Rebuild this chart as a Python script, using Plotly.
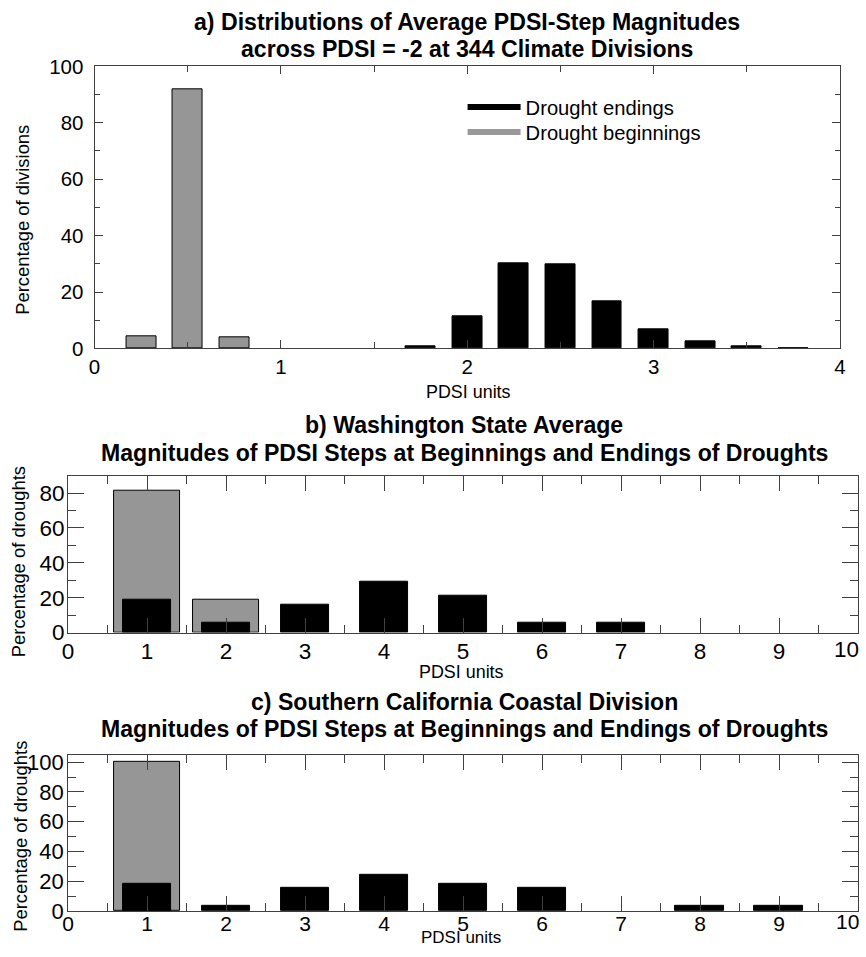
import plotly.graph_objects as go

# ---------------- data ----------------
# Panel a: average PDSI-step magnitudes across PDSI = -2 (344 climate divisions)
a_beg_x = [0.25, 0.5, 0.75]
a_beg_y = [4.4, 91.8, 4.1]
a_end_x = [1.75, 2.0, 2.25, 2.5, 2.75, 3.0, 3.25, 3.5, 3.75]
a_end_y = [0.9, 11.5, 30.1, 29.7, 16.7, 6.6, 2.5, 0.6, 0.2]

# Panel b: Washington State average
b_beg_x = [1, 2]
b_beg_y = [81.2, 18.8]
b_end_x = [1, 2, 3, 4, 5, 6, 7]
b_end_y = [18.6, 5.5, 16.0, 29.2, 21.2, 5.5, 5.5]

# Panel c: Southern California Coastal Division
c_beg_x = [1]
c_beg_y = [100.0]
c_end_x = [1, 2, 3, 4, 5, 6, 8, 9]
c_end_y = [18.3, 3.3, 15.5, 24.4, 18.4, 15.5, 3.3, 3.3]

bc_tickvals = [0, 1, 2, 3, 4, 5, 6, 7, 8, 9, 10]
bc_ticktext = ["0", "1", "2", "3", "4", "5", "6", "7", "8", "9", ""]
last_tick = "10"

titles_a = ["a) Distributions of Average PDSI-Step Magnitudes",
            "across PDSI = -2 at 344 Climate Divisions"]
titles_b = ["b) Washington State Average",
            "Magnitudes of PDSI Steps at Beginnings and Endings of Droughts"]
titles_c = ["c) Southern California Coastal Division",
            "Magnitudes of PDSI Steps at Beginnings and Endings of Droughts"]
legend_names = ["Drought endings", "Drought beginnings"]

# ---------------- style ----------------
FONT = "Liberation Sans, Arial, Helvetica, sans-serif"
GRAY = "#969696"
AX = "#404040"
W, H = 866, 957

# calibration of the photographed page -> layout pixels
SX, OX, SY, OY = 0.979, 5.1, 0.977, 11.5


def fx(p):
    """reference picture x (px) -> paper fraction"""
    return ((p - OX) / SX) / W


def fy(p):
    """reference picture y (px, from top) -> paper fraction"""
    return 1 - ((p - OY) / SY) / H


fig = go.Figure()


def add_bars(xs, ys, width, color, xa, ya):
    fig.add_trace(go.Bar(x=xs, y=ys, width=width, xaxis=xa, yaxis=ya,
                         marker=dict(color=color, line=dict(color="black", width=1)),
                         showlegend=False, hoverinfo="x+y"))


add_bars(a_beg_x, a_beg_y, 0.16, GRAY, "x", "y")
add_bars(a_end_x, a_end_y, 0.16, "black", "x", "y")
add_bars(b_beg_x, b_beg_y, 0.84, GRAY, "x2", "y2")
add_bars(b_end_x, b_end_y, 0.62, "black", "x2", "y2")
add_bars(c_beg_x, c_beg_y, 0.84, GRAY, "x3", "y3")
add_bars(c_end_x, c_end_y, 0.62, "black", "x3", "y3")

# legend entries (lines)
fig.add_trace(go.Scatter(x=[None], y=[None], mode="lines", name=legend_names[0],
                         line=dict(color="black", width=6), xaxis="x", yaxis="y",
                         legend="legend"))
fig.add_trace(go.Scatter(x=[None], y=[None], mode="lines", name=legend_names[1],
                         line=dict(color="#999999", width=6), xaxis="x", yaxis="y",
                         legend="legend2"))


def axis(domain, rng, anchor, maj, mnr, fs, dtick, mdtick, standoff, vals=None, texts=None):
    d = dict(domain=domain, range=rng, anchor=anchor,
             ticks="inside", ticklen=maj, tickwidth=1, tickcolor=AX,
             minor=dict(tick0=0, dtick=mdtick, ticks="inside", ticklen=mnr,
                        tickwidth=1, tickcolor=AX),
             showline=True, linecolor=AX, linewidth=1, mirror="ticks",
             showgrid=False, zeroline=False, fixedrange=True,
             tickfont=dict(family=FONT, size=fs, color="black"),
             ticklabelstandoff=standoff)
    if vals is None:
        d.update(tickmode="linear", tick0=0, dtick=dtick)
    else:
        d.update(tickmode="array", tickvals=vals, ticktext=texts)
    return d


RIGHT_BC = 1 - 2 / W  # right edge of panels b and c (page edge)
LEG_X = 463 / W
fig.update_layout(
    width=W, height=H,
    margin=dict(l=0, r=0, t=0, b=0),
    paper_bgcolor="white", plot_bgcolor="white",
    barmode="overlay", bargap=0,
    font=dict(family=FONT, color="black"),
    xaxis=axis([fx(93), fx(833)], [0, 4], "y", 8, 6, 20.5, 1, 0.5, 0),
    yaxis=axis([fy(349), fy(66)], [0, 100], "x", 8, 5, 20.5, 20, 10, 6),
    xaxis2=axis([fx(66.7), RIGHT_BC], [0, 10], "y2", 15, 8, 22.5, 1, 0.5, -2,
                bc_tickvals, bc_ticktext),
    yaxis2=axis([fy(634), fy(476.7)], [0, 90], "x2", 16, 8, 22.5, 20, 10, -2),
    xaxis3=axis([fx(66.7), RIGHT_BC], [0, 10], "y3", 15, 8, 21, 1, 0.5, -6,
                bc_tickvals, bc_ticktext),
    yaxis3=axis([fy(913.3), fy(756.7)], [0, 105], "x3", 16, 8, 22, 20, 10, -1),
    legend=dict(x=LEG_X, y=1 - 77.5 / H, xanchor="left", yanchor="top", itemwidth=53,
                bgcolor="rgba(0,0,0,0)", font=dict(family=FONT, size=20.2, color="black")),
    legend2=dict(x=LEG_X, y=1 - 103 / H, xanchor="left", yanchor="top", itemwidth=53,
                 bgcolor="rgba(0,0,0,0)", font=dict(family=FONT, size=20.2, color="black")),
    showlegend=True,
)

ann = []


def text(t, x, y, size, bold=False, angle=0):
    ann.append(dict(text=f"<b>{t}</b>" if bold else t, x=fx(x), y=fy(y),
                    xref="paper", yref="paper", xanchor="center", yanchor="middle",
                    showarrow=False, textangle=angle,
                    font=dict(family=FONT, size=size, color="black")))


TS = 23.1
text(titles_a[0], 463, 22, TS, True)
text(titles_a[1], 463, 49, TS, True)
text(titles_b[0], 460, 426, TS, True)
text(titles_b[1], 460, 454, TS, True)
text(titles_c[0], 460, 704, TS, True)
text(titles_c[1], 460, 731, TS, True)

text("Percentage of divisions", 22, 220, 18.4, angle=-90)
text("Percentage of droughts", 17, 562.5, 18.4, angle=-90)
text("Percentage of droughts", 20, 839, 18.4, angle=-90)

text("PDSI units", 464, 393, 17.9)
text("PDSI units", 457, 674, 17.9)
text("PDSI units", 457, 939.5, 17)

# last x tick label of panels b and c, kept inside the page
for xr, yv, fs in (("x2", 650.7, 22.5), ("x3", 923.5, 21)):
    ann.append(dict(text=last_tick, x=10, xref=xr, y=fy(yv), yref="paper",
                    xanchor="right", yanchor="middle", showarrow=False, xshift=3,
                    font=dict(family=FONT, size=fs, color="black")))

fig.update_layout(annotations=ann)
fig.write_html("out.html",
               config={"displayModeBar": False},
               post_script="document.body.style.margin='0';"
                           "document.body.style.overflow='hidden';")
